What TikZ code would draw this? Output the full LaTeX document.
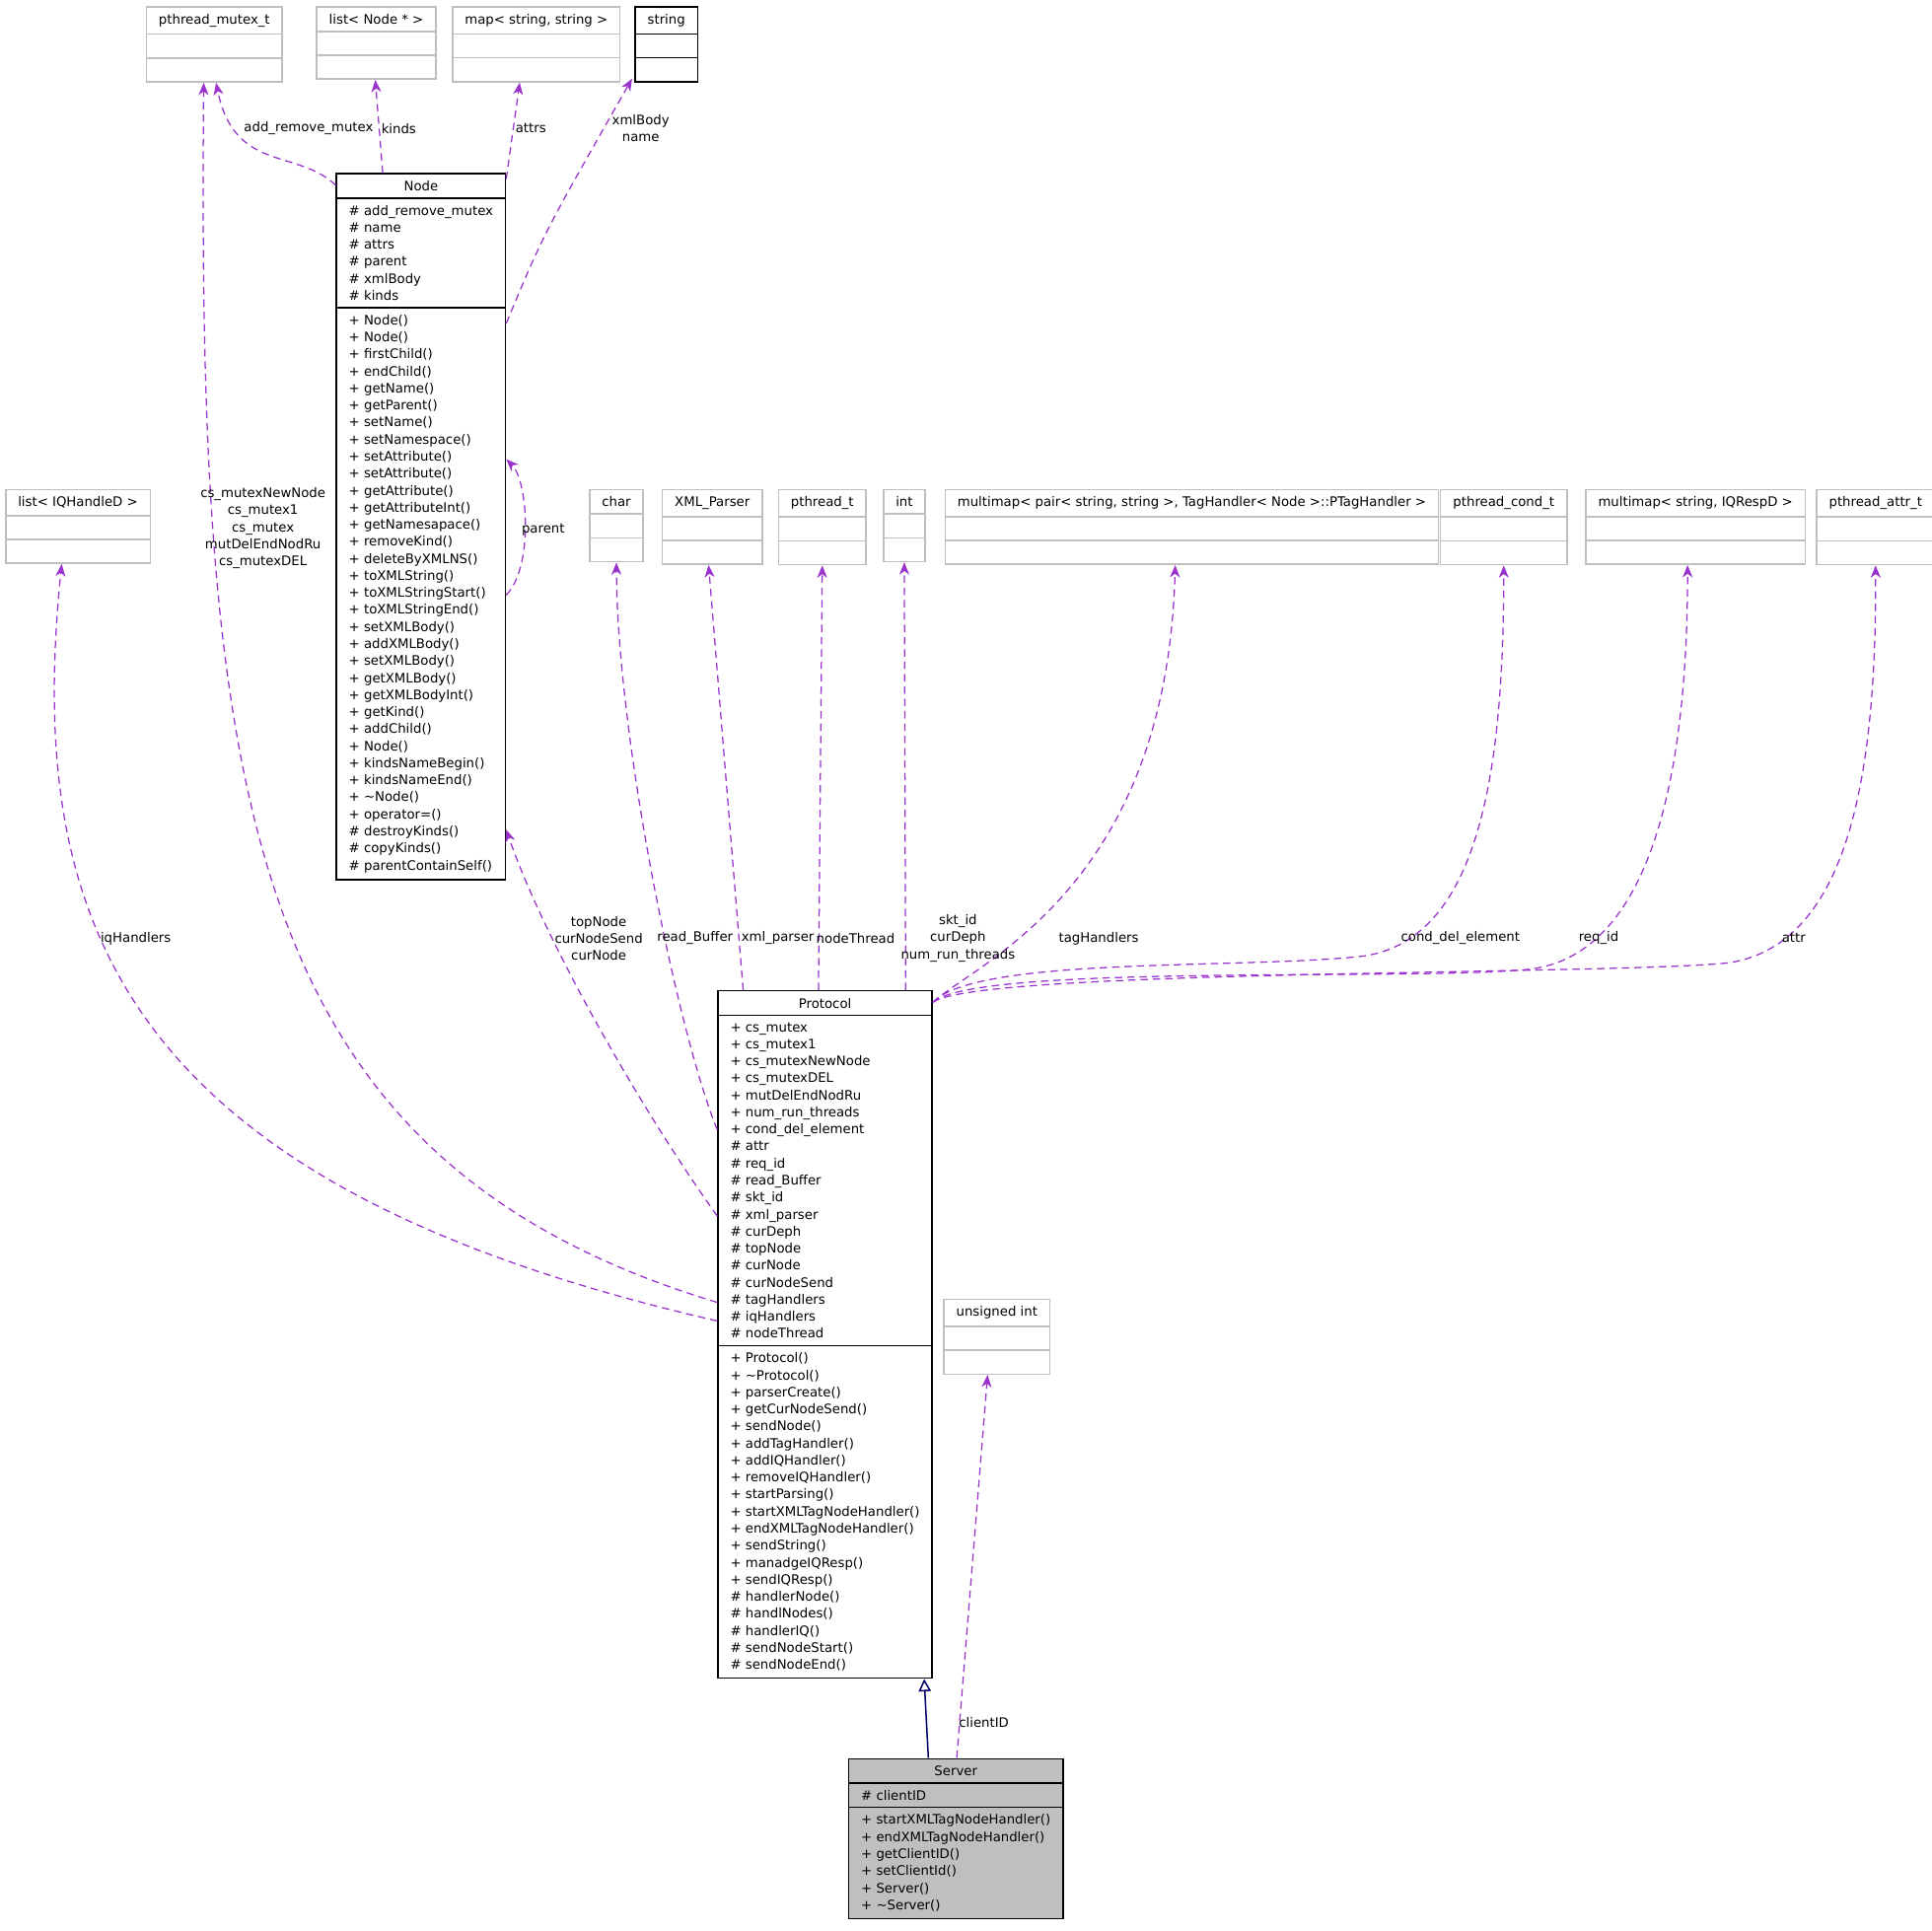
\documentclass[tikz,border=0pt]{standalone}
\usepackage{fontspec}
\setmainfont{DejaVu Sans}
\usetikzlibrary{shapes.multipart,arrows.meta,calc}
\definecolor{usecol}{HTML}{9A32CD}
\definecolor{boxgray}{HTML}{BFBFBF}
\tikzset{cls/.style={draw, rectangle split, rectangle split parts=3, align=left,
    rectangle split part align={center,left,left},
    anchor=north west, inner xsep=5pt, inner ysep=2.6pt, line width=0.6pt,
    font=\fontsize{5.3}{6.9}\selectfont, minimum width=#1}}
\tikzset{ext/.style={cls=#1, draw=boxgray}}
\tikzset{lbl/.style={font=\fontsize{5.3}{6.9}\selectfont, align=center, inner sep=0pt}}
\tikzset{use/.style={draw=usecol, dashed, dash pattern=on 3pt off 2pt, line width=0.5pt,
    -{Stealth[length=5pt,width=4pt,inset=1.5pt]}}}
\tikzset{inh/.style={draw=blue!40!black, line width=0.6pt, -{Triangle[open,length=5pt,width=5pt]}}}
\newcommand{\emptyparts}{\nodepart{two}\phantom{X}\nodepart{three}\phantom{X}}

\begin{document}
\begin{tikzpicture}[x=0.5pt, y=-0.5pt]
  \useasboundingbox (0,0) rectangle (1565,1564);
  % external types
  \node [ext=52.5pt] (mutex) at (118,5) {pthread\_mutex\_t \emptyparts};
  \node [ext=46pt] (nodelist) at (256,5) {list< Node * > \emptyparts};
  \node [ext=64.5pt] (attrmap) at (366,5) {map< string, string > \emptyparts};
  \node [cls=23.5pt] (string) at (514,5) {string \emptyparts};
  \node [ext=55.5pt] (iqlist) at (4,396) {list< IQHandleD > \emptyparts};
  \node [ext=20pt] (char) at (477,396) {char \emptyparts};
  \node [ext=38pt] (xmlparser) at (536,396) {XML\_Parser \emptyparts};
  \node [ext=33.5pt] (pthread) at (630,396) {pthread\_t \emptyparts};
  \node [ext=15.5pt] (int) at (715,396) {int \emptyparts};
  \node [ext=191pt] (tagmap) at (765,396) {multimap< pair< string, string >, TagHandler< Node >::PTagHandler > \emptyparts};
  \node [ext=51.5pt] (cond) at (1166,396) {pthread\_cond\_t \emptyparts};
  \node [ext=83.5pt] (respmap) at (1284,396) {multimap< string, IQRespD > \emptyparts};
  \node [ext=46pt] (pattr) at (1471,396) {pthread\_attr\_t \emptyparts};
  \node [ext=40pt] (uint) at (764,1052) {unsigned int \emptyparts};
  % classes
  \node [cls=66pt] (Node) at (272,140) {Node
    \nodepart{two} \# add\_remove\_mutex\\\# name\\\# attrs\\\# parent\\\# xmlBody\\\# kinds
    \nodepart{three} + Node()\\+ Node()\\+ firstChild()\\+ endChild()\\+ getName()\\+ getParent()\\+ setName()\\+ setNamespace()\\+ setAttribute()\\+ setAttribute()\\+ getAttribute()\\+ getAttributeInt()\\+ getNamesapace()\\+ removeKind()\\+ deleteByXMLNS()\\+ toXMLString()\\+ toXMLStringStart()\\+ toXMLStringEnd()\\+ setXMLBody()\\+ addXMLBody()\\+ setXMLBody()\\+ getXMLBody()\\+ getXMLBodyInt()\\+ getKind()\\+ addChild()\\+ Node()\\+ kindsNameBegin()\\+ kindsNameEnd()\\+ \textasciitilde Node()\\+ operator=()\\\# destroyKinds()\\\# copyKinds()\\\# parentContainSelf()};
  \node [cls=82.5pt] (Protocol) at (581,802) {Protocol
    \nodepart{two} + cs\_mutex\\+ cs\_mutex1\\+ cs\_mutexNewNode\\+ cs\_mutexDEL\\+ mutDelEndNodRu\\+ num\_run\_threads\\+ cond\_del\_element\\\# attr\\\# req\_id\\\# read\_Buffer\\\# skt\_id\\\# xml\_parser\\\# curDeph\\\# topNode\\\# curNode\\\# curNodeSend\\\# tagHandlers\\\# iqHandlers\\\# nodeThread
    \nodepart{three} + Protocol()\\+ \textasciitilde Protocol()\\+ parserCreate()\\+ getCurNodeSend()\\+ sendNode()\\+ addTagHandler()\\+ addIQHandler()\\+ removeIQHandler()\\+ startParsing()\\+ startXMLTagNodeHandler()\\+ endXMLTagNodeHandler()\\+ sendString()\\+ manadgeIQResp()\\+ sendIQResp()\\\# handlerNode()\\\# handlNodes()\\\# handlerIQ()\\\# sendNodeStart()\\\# sendNodeEnd()};
  \node [cls=82.5pt, fill=boxgray] (Server) at (687,1424) {Server
    \nodepart{two} \# clientID
    \nodepart{three} + startXMLTagNodeHandler()\\+ endXMLTagNodeHandler()\\+ getClientID()\\+ setClientId()\\+ Server()\\+ \textasciitilde Server()};
  % Node members
  \draw [use] ($(Node.north west)+(0,10)$) .. controls (240,120) and (190,140) .. ($(mutex.south west)+(57,0)$);
  \draw [use] ($(Node.north west)+(38,0)$) -- ($(nodelist.south west)+(48,0)$);
  \draw [use] ($(Node.north east)+(0,5)$) -- ($(attrmap.south west)+(55,0)$);
  \draw [use] ($(Node.north east)+(0,122)$) .. controls (440,190) .. ($(string.south west)+(-2,-3)$);
  \draw [use] ($(Node.north east)+(0,342)$) .. controls (432,460) and (428,390) .. ($(Node.north east)+(0,232)$);
  \node [lbl] (l1) at (250,104) {add\_remove\_mutex};
  \node [lbl] (l2) at (323,104) {kinds};
  \node [lbl] (l3) at (430,104) {attrs};
  \node [lbl] (l4) at (519,104) {xmlBody\\name};
  \node [lbl] (l5) at (440,429) {parent};
  % Protocol members
  \draw [use] ($(Protocol.north west)+(0,253)$) .. controls (200,940) and (160,650) .. ($(mutex.south west)+(47,0)$);
  \draw [use] ($(Protocol.north west)+(0,268)$) .. controls (100,960) and (20,750) .. ($(iqlist.south west)+(46,0)$);
  \draw [use] ($(Protocol.north west)+(0,183)$) .. controls (520,900) and (440,760) .. ($(Node.north east)+(0,532)$);
  \draw [use] ($(Protocol.north west)+(0,113)$) .. controls (550,840) and (500,600) .. (char.south);
  \draw [use] ($(Protocol.north west)+(21,0)$) -- ($(xmlparser.south west)+(38,0)$);
  \draw [use] ($(Protocol.north west)+(82,0)$) -- (pthread.south);
  \draw [use] ($(Protocol.north east)+(-22,0)$) -- (int.south);
  \draw [use] ($(Protocol.north east)+(0,10)$) .. controls (790,780) and (945,720) .. ($(tagmap.south west)+(187,0)$);
  \draw [use] ($(Protocol.north east)+(0,10)$) .. controls (790,775) and (1000,785) .. (1100,775) .. controls (1200,765) and (1218,620) .. (cond.south);
  \draw [use] ($(Protocol.north east)+(0,10)$) .. controls (790,780) and (1150,795) .. (1240,785) .. controls (1340,772) and (1367,620) .. ($(respmap.south west)+(83,0)$);
  \draw [use] ($(Protocol.north east)+(0,10)$) .. controls (790,785) and (1300,790) .. (1400,780) .. controls (1500,765) and (1520,620) .. (pattr.south);
  \node [lbl] (l6) at (213,428) {cs\_mutexNewNode\\cs\_mutex1\\cs\_mutex\\mutDelEndNodRu\\cs\_mutexDEL};
  \node [lbl] (l7) at (110,760) {iqHandlers};
  \node [lbl] (l8) at (485,760) {topNode\\curNodeSend\\curNode};
  \node [lbl] (l9) at (563,760) {read\_Buffer};
  \node [lbl] (l10) at (630,760) {xml\_parser};
  \node [lbl] (l11) at (693,760) {nodeThread};
  \node [lbl] (l12) at (776,760) {skt\_id\\curDeph\\num\_run\_threads};
  \node [lbl] (l13) at (890,760) {tagHandlers};
  \node [lbl] (l14) at (1183,760) {cond\_del\_element};
  \node [lbl] (l15) at (1295,760) {req\_id};
  \node [lbl] (l16) at (1453,760) {attr};
  % Server
  \draw [inh] ($(Server.north west)+(65,0)$) -- ($(Protocol.south east)+(-7,0)$);
  \draw [use] ($(Server.north west)+(88,0)$) -- ($(uint.south west)+(36,0)$);
  \node [lbl] (l17) at (797,1395) {clientID};
\end{tikzpicture}
\end{document}
